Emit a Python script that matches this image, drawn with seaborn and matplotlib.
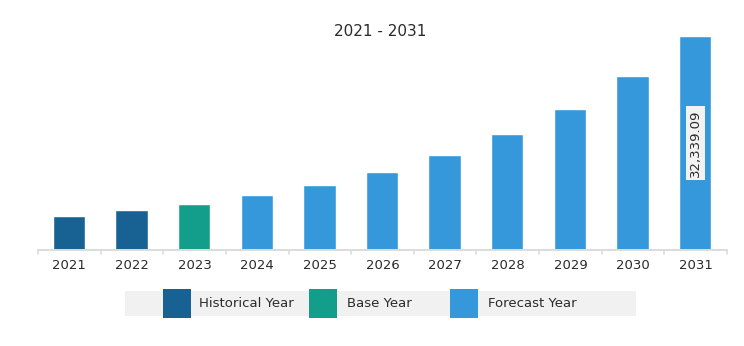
import matplotlib
matplotlib.use("Agg")
import matplotlib.pyplot as plt
from matplotlib.patches import Rectangle
import seaborn as sns
import pandas as pd

years = ["2021", "2022", "2023", "2024", "2025", "2026", "2027", "2028", "2029", "2030", "2031"]
values = [4953, 5822, 6782, 8153, 9677, 11704, 14249, 17404, 21306, 26243, 32339.09]
period = ["Historical Year", "Historical Year", "Base Year", "Forecast Year", "Forecast Year",
          "Forecast Year", "Forecast Year", "Forecast Year", "Forecast Year", "Forecast Year",
          "Forecast Year"]
legend_labels = ["Historical Year", "Base Year", "Forecast Year"]
colors = ["#176293", "#129e8a", "#3498db"]

df = pd.DataFrame({"year": years, "value": values, "period": period})
palette = dict(zip(legend_labels, colors))

sns.set_style("white")
plt.rcParams["font.family"] = ["DejaVu Sans"]

W, H = 744, 346
fig = plt.figure(figsize=(W / 100, H / 100), dpi=100)
base_px = 249.5
ax = fig.add_axes([38 / W, 1 - base_px / H, (727 - 38) / W, 229.7 / H])

sns.barplot(data=df, x="year", y="value", hue="period", palette=palette,
            dodge=False, width=0.5, ax=ax, legend=False, saturation=1,
            edgecolor="#ffffff", linewidth=0.3)

ax.set_ylim(0, 35000)
ax.set_xlim(-0.5, len(years) - 0.5)
ax.set_xlabel("")
ax.set_ylabel("")
ax.set_yticks([])
for s in ["top", "right", "left"]:
    ax.spines[s].set_visible(False)
ax.spines["bottom"].set_color("#dcdcdc")
ax.spines["bottom"].set_linewidth(1.4)

# category labels centred under bars, separator ticks between categories
ax.set_xticks(range(len(years)))
ax.set_xticklabels(years, fontsize=9.5, color="#2a2a2a")
ax.tick_params(axis="x", length=0, pad=7)
for i in range(len(years) + 1):
    ax.plot([i - 0.5, i - 0.5], [0, -0.018], transform=ax.get_xaxis_transform(),
            color="#dcdcdc", lw=1.2, clip_on=False)

# value label on the last bar
last = len(years) - 1
ax.text(last, values[last] / 2, f"{values[last]:,.2f}", rotation=90,
        ha="center", va="center", fontsize=9.5, color="#2a2a2a",
        bbox=dict(boxstyle="square,pad=0.25", facecolor="#f2f2f2", edgecolor="none"))

fig.text(380 / W, 1 - 31 / H, "2021 - 2031", ha="center", va="center",
         fontsize=11, color="#2a2a2a")

# legend strip
fig.patches.append(Rectangle((125 / W, 1 - 316 / H), (636 - 125) / W, 25 / H,
                             transform=fig.transFigure, facecolor="#f1f1f1",
                             edgecolor="none", zorder=0))
patch_x = [163, 309, 450]
text_x = [199, 347, 488]
for lab, px, tx in zip(legend_labels, patch_x, text_x):
    fig.patches.append(Rectangle((px / W, 1 - 318 / H), 28 / W, 29 / H,
                                 transform=fig.transFigure, facecolor=palette[lab],
                                 edgecolor="none", zorder=1))
    fig.text(tx / W, 1 - 303.5 / H, lab, ha="left", va="center",
             fontsize=9.5, color="#2a2a2a")

fig.savefig("out.png", dpi=100)
